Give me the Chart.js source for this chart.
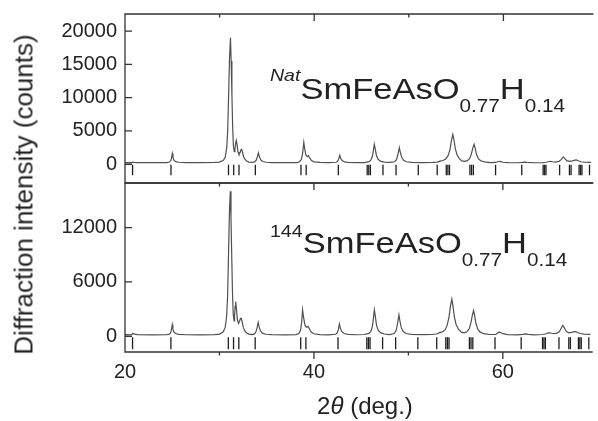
<!DOCTYPE html>
<html>
<head>
<meta charset="utf-8">
<script src="https://cdn.jsdelivr.net/npm/chart.js@4"></script>
<style>
html,body{margin:0;padding:0;background:#fff;overflow:hidden}
#wrap{position:relative;width:598px;height:421px}
.box{position:absolute;left:0;top:0;width:598px}
#topBox{height:200px}
#botBox{height:421px}
.lbl{position:absolute;font-family:"Liberation Sans",Arial,sans-serif;color:#222;white-space:nowrap}
#yTitle{left:-176px;top:182px;width:400px;text-align:center;font-size:26px;line-height:25px;transform:rotate(-90deg)}
#xTitle{left:265px;top:394px;width:200px;text-align:center;font-size:24px;line-height:24px}
.formula{font-size:30px;line-height:30px;transform:scaleX(1.15);transform-origin:left center}
.formula .sub{position:relative;top:13px;font-size:18px}
.formula .sup{position:relative;font-size:17px}
#natLbl{left:270px;top:74px}
#natLbl .sup{top:-18px;font-style:italic}
#isoLbl{left:270px;top:228px}
#isoLbl .sup{top:-16px;font-size:17px}
</style>
</head>
<body>
<div id="wrap">
  <div class="box" id="topBox"><canvas id="topPanel"></canvas></div>
  <div class="box" id="botBox"><canvas id="botPanel"></canvas></div>
  <div class="lbl" id="yTitle">Diffraction intensity (counts)</div>
  <div class="lbl" id="xTitle">2<i>θ</i> (deg.)</div>
  <div class="lbl formula" id="natLbl"><span class="sup">Nat</span>SmFeAsO<span class="sub">0.77</span>H<span class="sub">0.14</span></div>
  <div class="lbl formula" id="isoLbl"><span class="sup">144</span>SmFeAsO<span class="sub">0.77</span>H<span class="sub">0.14</span></div>
</div>
<script>
// 2theta (deg), counts
const natPattern = [
  [20,260],[20.7,255],[20.85,330],[20.95,290],[21.3,255],[23,250],[24.4,255],
  [24.7,330],[24.85,560],[24.93,1000],[25.0,1600],[25.07,1050],[25.17,620],[25.35,400],[25.7,300],[26.5,260],
  [28,255],[29.5,270],[30.0,330],[30.4,600],[30.6,1100],[30.76,2600],[30.86,5200],[30.94,9600],[31.05,16000],
  [31.15,19000],[31.22,15500],[31.3,10500],[31.38,5600],[31.46,2700],[31.55,1900],
  [31.62,2300],[31.7,3200],[31.77,3580],[31.85,2900],[31.95,1800],[32.05,1500],[32.15,1700],[32.25,2150],
  [32.33,2240],[32.42,1800],[32.55,1100],[32.67,750],[32.85,480],[33.1,320],[33.5,290],
  [33.7,360],[33.85,560],[33.98,1050],[34.1,1700],[34.2,1150],[34.35,650],[34.55,420],[34.9,300],[35.5,260],
  [37,240],[38.2,260],
  [38.45,380],[38.65,750],[38.78,1700],[38.9,3300],[39.0,2300],[39.12,1400],[39.25,1150],[39.38,1300],
  [39.5,1000],[39.7,560],[40.0,360],[40.6,270],[41.5,240],[42.3,300],
  [42.45,420],[42.58,750],[42.7,1350],[42.8,900],[42.95,550],[43.2,370],[43.6,290],[44.5,240],[45.3,260],
  [45.8,400],[46.0,650],[46.15,1200],[46.27,2200],[46.35,3000],[46.45,2300],[46.58,1300],[46.75,750],
  [47.0,460],[47.4,320],[48.0,270],
  [48.5,380],[48.7,700],[48.85,1500],[49.0,2500],[49.1,1800],[49.25,1050],[49.45,600],[49.75,380],[50.3,280],
  [51.5,250],[52.5,270],[53.0,330],[53.3,480],[53.6,560],[53.9,800],[54.15,1300],[54.35,2200],[54.5,3500],
  [54.65,4480],[54.78,3600],[54.92,2300],[55.1,1400],[55.35,850],[55.6,500],
  [55.9,430],[56.2,550],[56.45,900],[56.62,1600],[56.78,2500],[56.9,3000],[57.0,2500],[57.15,1500],
  [57.35,850],[57.6,520],[58.0,350],[58.6,260],
  [59.2,270],[59.4,380],[59.55,450],[59.7,400],[59.95,300],[60.5,240],
  [61.5,230],[62.0,280],[62.2,310],[62.45,270],[63.3,230],[64.2,260],[64.5,300],
  [64.75,380],[64.97,450],[65.2,380],[65.5,330],[65.9,450],[66.1,700],[66.25,1000],[66.35,1100],[66.5,850],
  [66.7,550],[66.95,450],[67.3,520],[67.55,630],[67.7,650],[67.9,520],[68.2,380],[68.6,300],[69.3,280]
];

const isoPattern = [
  [20,170],[20.7,165],[20.85,330],[20.95,250],[21.3,170],[23,160],[24.4,165],
  [24.7,230],[24.85,430],[24.93,800],[25.0,1280],[25.07,850],[25.17,480],[25.35,300],[25.7,200],[26.5,165],
  [28,160],[29.5,180],[30.0,240],[30.4,500],[30.6,950],[30.76,2200],[30.86,4400],[30.94,8100],[31.05,13500],
  [31.15,16000],[31.22,13000],[31.3,8800],[31.38,4700],[31.46,2400],[31.55,1700],
  [31.6,2300],[31.66,3300],[31.72,3820],[31.8,3000],[31.9,1800],[32.02,1400],[32.12,1650],[32.22,1950],
  [32.3,2000],[32.4,1600],[32.53,950],[32.67,620],[32.85,380],[33.1,230],[33.5,190],
  [33.7,260],[33.85,460],[33.98,930],[34.1,1530],[34.2,1030],[34.35,560],[34.55,340],[34.9,220],[35.5,170],
  [37,160],[38.1,180],
  [38.4,300],[38.58,650],[38.7,1500],[38.8,2910],[38.9,2100],[39.05,1250],[39.2,1000],[39.38,1090],
  [39.5,850],[39.7,460],[40.0,270],[40.6,180],[41.5,160],[42.3,220],
  [42.45,350],[42.58,700],[42.7,1350],[42.8,880],[42.95,500],[43.2,300],[43.6,210],[44.5,165],[45.3,190],
  [45.85,320],[46.05,580],[46.2,1150],[46.32,2200],[46.4,2910],[46.5,2200],[46.63,1200],[46.8,680],
  [47.05,400],[47.45,250],[48.0,190],
  [48.5,300],[48.7,620],[48.85,1400],[49.0,2370],[49.1,1700],[49.25,950],[49.45,520],[49.75,300],[50.3,200],
  [51.5,170],[52.5,190],[53.0,250],[53.3,400],[53.6,480],[53.9,720],[54.1,1200],[54.3,2100],[54.45,3300],
  [54.6,4110],[54.73,3300],[54.87,2100],[55.05,1300],[55.3,780],[55.6,450],
  [55.9,380],[56.2,500],[56.45,850],[56.62,1500],[56.78,2350],[56.9,2840],[57.0,2350],[57.15,1400],
  [57.35,780],[57.6,450],[58.0,280],[58.6,190],
  [59.25,200],[59.45,360],[59.6,480],[59.75,420],[60.0,280],[60.5,180],
  [61.5,160],[62.1,200],[62.4,260],[62.7,210],[63.3,160],[64.2,190],[64.5,250],
  [64.7,330],[64.9,400],[65.15,330],[65.5,280],[65.9,420],[66.1,720],[66.25,1050],[66.35,1200],[66.5,950],
  [66.7,560],[66.95,380],[67.3,420],[67.55,500],[67.7,510],[67.9,420],[68.2,300],[68.6,230],[69.3,210]
];

// Bragg reflection positions (same set under both patterns)
const reflections = [20.8,24.86,30.94,31.49,32.05,33.78,38.6,39.15,42.55,45.6,45.77,45.94,47.27,48.65,
  51.0,53.0,53.96,54.13,54.3,56.46,56.63,56.82,59.17,61.94,64.2,64.35,64.5,65.94,66.98,67.15,
  68.0,68.15,68.3,69.1];

const xRange = [20, 69.3];
const xLabels = [20, 40, 60];
const xMajor = [40, 60];
const xMinor = [30, 50];
const natRange = [-2812, 22556];
const natTicks = [0, 5000, 10000, 15000, 20000];
const natMarkY = -860;
const isoRange = [-1740, 16920];
const isoTicks = [0, 6000, 12000];
const isoMarkY = -775;

const FONT = '"Liberation Sans", Arial, sans-serif';
const INK = '#222';

const framePlugin = {
  id: 'frame',
  afterDraw(chart, args, opts) {
    const {ctx, chartArea: a, scales: {x, y}} = chart;
    ctx.save();
    ctx.strokeStyle = '#333';
    ctx.lineWidth = 1.3;
    ctx.beginPath();
    ctx.moveTo(a.right + 2, a.top); ctx.lineTo(a.left, a.top); ctx.lineTo(a.left, a.bottom); ctx.lineTo(a.right + 2, a.bottom);
    xMajor.forEach(v => {
      const px = x.getPixelForValue(v);
      ctx.moveTo(px, a.top); ctx.lineTo(px, a.top + 7);
      if (opts.outer) { ctx.moveTo(px, a.bottom); ctx.lineTo(px, a.bottom + 7); }
    });
    xMinor.forEach(v => {
      const px = x.getPixelForValue(v);
      ctx.moveTo(px, a.top); ctx.lineTo(px, a.top + 3.5);
      if (opts.outer) { ctx.moveTo(px, a.bottom); ctx.lineTo(px, a.bottom + 3.5); }
    });
    y.ticks.forEach(t => {
      const py = y.getPixelForValue(t.value);
      ctx.moveTo(a.left, py); ctx.lineTo(a.left + 7, py);
    });
    ctx.stroke();
    ctx.restore();
  }
};

function panel(id, pattern, range, ticks, markY, markR, pad, showX) {
  return new Chart(document.getElementById(id), {
    type: 'scatter',
    data: {
      datasets: [
        {data: pattern.map(([x, y]) => ({x, y})), showLine: true, borderColor: '#505050', borderWidth: 1.2,
         pointRadius: 0, tension: 0},
        {data: reflections.map(x => ({x, y: markY})), pointStyle: 'line', rotation: 90, radius: markR,
         borderColor: '#1e1e1e', borderWidth: 1.3}
      ]
    },
    options: {
      responsive: true,
      maintainAspectRatio: false,
      animation: false,
      events: [],
      layout: {padding: pad},
      plugins: {legend: {display: false}, tooltip: {enabled: false}, frame: {outer: showX}},
      scales: {
        x: {
          type: 'linear', min: xRange[0], max: xRange[1], display: showX,
          afterBuildTicks: s => { s.ticks = xLabels.map(v => ({value: v})); },
          afterFit: s => { s.height = showX ? 69 : 0; s.paddingLeft = 0; s.paddingRight = 0; },
          grid: {display: false, drawTicks: false},
          border: {display: false},
          ticks: {font: {family: FONT, size: 20}, color: INK, padding: 8, maxRotation: 0, autoSkip: false,
                  callback: v => String(v)}
        },
        y: {
          type: 'linear', min: range[0], max: range[1],
          afterBuildTicks: s => { s.ticks = ticks.map(v => ({value: v})); },
          afterFit: s => { s.width = 125; s.paddingTop = 0; s.paddingBottom = 0; },
          grid: {display: false, drawTicks: false},
          border: {display: false},
          ticks: {font: {family: FONT, size: 20}, color: INK, padding: 8, autoSkip: false,
                  callback: v => String(v)}
        }
      }
    },
    plugins: [framePlugin]
  });
}

panel('topPanel', natPattern, natRange, natTicks, natMarkY, 5.3, {top: 14, bottom: 17, left: 0, right: 0}, false);
panel('botPanel', isoPattern, isoRange, isoTicks, isoMarkY, 6, {top: 183, bottom: 0, left: 0, right: 0}, true);
</script>
</body>
</html>
